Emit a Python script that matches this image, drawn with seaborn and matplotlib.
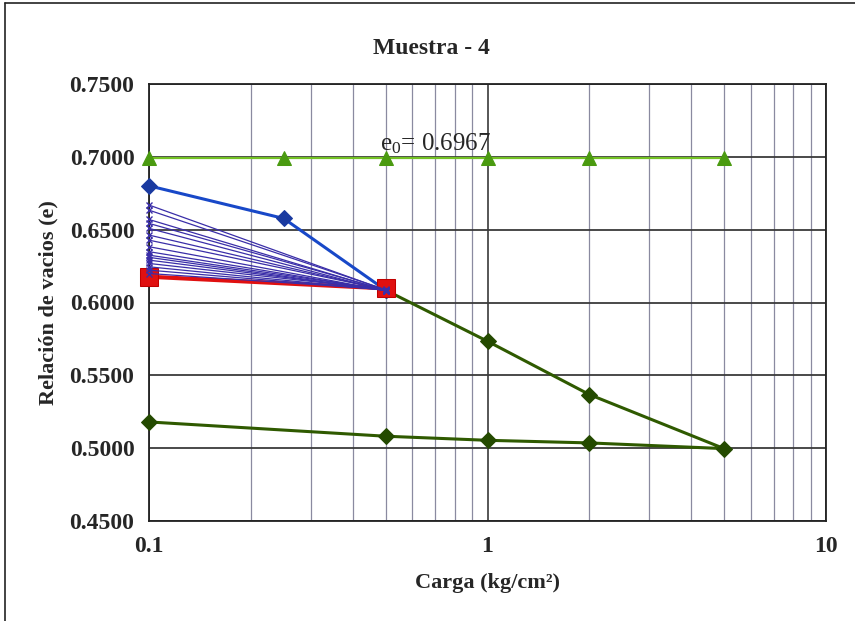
import matplotlib
matplotlib.use("Agg")
import matplotlib.pyplot as plt
from matplotlib.ticker import FixedLocator, FormatStrFormatter, NullFormatter
from matplotlib.lines import Line2D
import seaborn as sns
import numpy as np

# --- data -------------------------------------------------------------------
carga_e0 = [0.1, 0.25, 0.5, 1, 2, 5]
e_e0 = [0.6995, 0.6995, 0.6995, 0.6995, 0.6995, 0.6995]

carga_inicial = [0.1, 0.25, 0.5]
e_inicial = [0.6801, 0.6577, 0.6085]

carga_final = [0.1, 0.5]
e_final = [0.6177, 0.6097]

# thin lines (x markers) from 0.1 to 0.5
e_lecturas_ini = [0.6669, 0.6634, 0.6570, 0.6543, 0.6509, 0.6463, 0.6428, 0.6383,
                  0.6349, 0.6325, 0.6310, 0.6291, 0.6268, 0.6245, 0.6222, 0.6199]
e_lecturas_fin = [0.6085, 0.6088, 0.6082, 0.6086, 0.6080, 0.6084, 0.6087, 0.6081,
                  0.6083, 0.6086, 0.6082, 0.6085, 0.6088, 0.6084, 0.6086, 0.6090]

carga_ciclo = [0.5, 1, 2, 5, 2, 1, 0.5, 0.1]
e_ciclo = [0.6085, 0.5734, 0.5368, 0.4997, 0.5036, 0.5054, 0.5082, 0.5180]

e0_texto = '0.6967'

# --- figure -------------------------------------------------------------------
sns.set_style('white')
plt.rcParams['font.family'] = ['Liberation Serif', 'DejaVu Serif']
plt.rcParams['mathtext.fontset'] = 'custom'
plt.rcParams['mathtext.rm'] = 'Liberation Serif'
plt.rcParams['mathtext.it'] = 'Liberation Serif:italic'

fig = plt.figure(figsize=(8.55, 6.21), dpi=100)
ax = fig.add_axes([149 / 855, 1 - 521 / 621, (826 - 149) / 855, (521 - 84) / 621])

ax.set_xscale('log')
ax.set_xlim(0.1, 10)
ax.set_ylim(0.45, 0.75)

# grid
ax.yaxis.set_major_locator(FixedLocator(np.arange(0.45, 0.7501, 0.05)))
ax.yaxis.set_major_formatter(FormatStrFormatter('%.4f'))
ax.xaxis.set_major_locator(FixedLocator([0.1, 1, 10]))
ax.xaxis.set_major_formatter(FormatStrFormatter('%g'))
minors = [m * d for d in (0.1, 1) for m in range(2, 10)]
ax.xaxis.set_minor_locator(FixedLocator(minors))
ax.xaxis.set_minor_formatter(NullFormatter())
ax.grid(axis='y', which='major', color='#3a3a3a', lw=1.3)
ax.grid(axis='x', which='major', color='#3a3a3a', lw=1.2)
ax.grid(axis='x', which='minor', color='#8a8aa0', lw=0.9)
ax.set_axisbelow(True)

# series (estimator=None keeps the repeated loads of the unloading branch)
common = dict(ax=ax, sort=False, estimator=None, clip_on=False)
sns.lineplot(x=carga_e0, y=e_e0, color='#74c225', lw=1.6,
             marker='^', markersize=10, markerfacecolor='#4a9a10',
             markeredgecolor='#4a9a10', zorder=3, **common)
sns.lineplot(x=carga_ciclo, y=e_ciclo, color='#2f5a00', lw=2.2,
             marker='D', markersize=8, markerfacecolor='#244a00',
             markeredgecolor='#244a00', zorder=3, **common)
sns.lineplot(x=carga_inicial, y=e_inicial, color='#1848c8', lw=2.2,
             marker='D', markersize=8, markerfacecolor='#1a3aa0',
             markeredgecolor='#1a3aa0', zorder=4, **common)
sns.lineplot(x=carga_final, y=e_final, color='#e01010', lw=3,
             marker='s', markersize=13, markerfacecolor='#e01010',
             markeredgecolor='#c00000', zorder=5, **common)
for e_a, e_b in zip(e_lecturas_ini, e_lecturas_fin):
    sns.lineplot(x=[0.1, 0.5], y=[e_a, e_b], color='#3a2ea8',
                 lw=0.9, marker='x', markersize=5, markeredgewidth=1,
                 markeredgecolor='#3a2ea8', zorder=6, **common)

ax.text(0.48, 0.7003, r'$\mathrm{e}_0$= ' + e0_texto, fontsize=18,
        ha='left', va='bottom', zorder=7)

# axes decoration
for s in ax.spines.values():
    s.set_color('#222222')
    s.set_linewidth(1.3)
ax.tick_params(axis='both', which='major', direction='inout', length=9, width=1.2,
               color='#222222', labelsize=17, pad=6)
ax.tick_params(axis='x', which='minor', length=0)
for lbl in ax.get_xticklabels() + ax.get_yticklabels():
    lbl.set_fontweight('bold')

ax.set_xlabel('Carga (kg/cm²)', fontsize=16, fontweight='bold', labelpad=12)
ax.set_ylabel('Relación de vacios (e)', fontsize=16, fontweight='bold', labelpad=8)
fig.text(0.505, 1 - 48 / 621, 'Muestra - 4', fontsize=17, fontweight='bold',
         ha='center', va='center')

# chart-area border (left and top visible in the reference)
fig.add_artist(Line2D([5 / 855, 5 / 855], [0, 1 - 3 / 621], color='#222222', lw=1.2))
fig.add_artist(Line2D([5 / 855, 1], [1 - 3 / 621, 1 - 3 / 621], color='#222222', lw=1.2))

fig.savefig('out.png', dpi=100)
